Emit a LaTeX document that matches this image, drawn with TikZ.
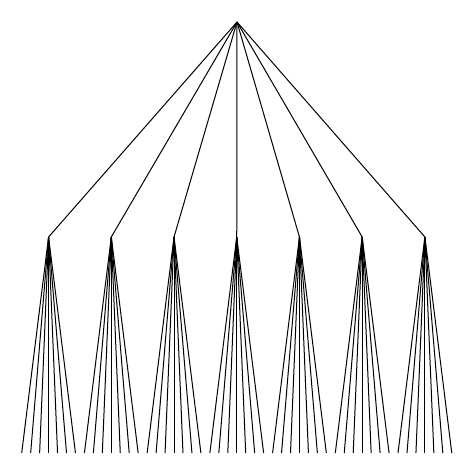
\documentclass[tikz,border=0pt]{standalone}
\begin{document}
\begin{tikzpicture}[x=1pt,y=-1pt,edge/.style={line width=1pt,black}]
\useasboundingbox (0,0) rectangle (474,474);
\coordinate (r) at (237,22);
\foreach \j in {0,...,6}{
  \pgfmathsetmacro{\cx}{21.7+8.96*(7*\j+3)}
  \coordinate (c\j) at (\cx,237);
  \draw[edge] (r) -- (c\j);
  \foreach \k in {0,...,6}{
    \pgfmathsetmacro{\lx}{21.7+8.96*(7*\j+\k)}
    \coordinate (l\j-\k) at (\lx,453);
    \draw[edge] (c\j) -- (l\j-\k);
  }
}
\end{tikzpicture}
\end{document}
